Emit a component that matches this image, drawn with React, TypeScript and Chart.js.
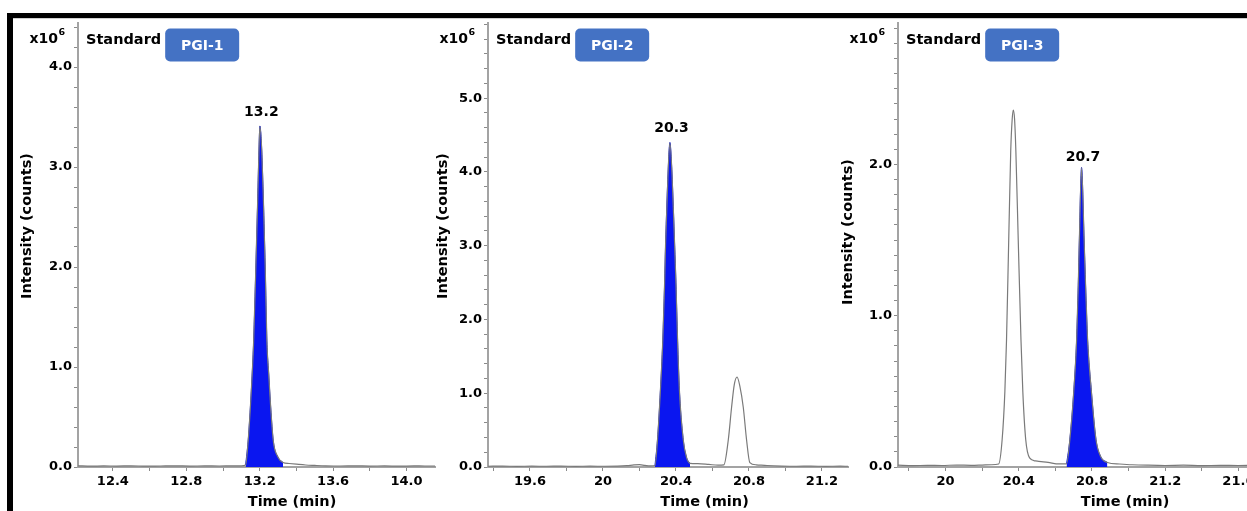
import React, { useEffect, useRef } from "react";
import { Chart, registerables } from "chart.js";

Chart.register(...registerables);

const FONT = "'DejaVu Sans', 'Liberation Sans', sans-serif";

// ---------- Panel 1 (PGI-1) ----------
const P1_TIME = [
  12.21, 12.28, 12.35, 12.42, 12.5, 12.58, 12.66, 12.74, 12.82, 12.9, 12.98, 13.05, 13.1,
  13.123, 13.137, 13.149, 13.159, 13.167, 13.179, 13.189, 13.196, 13.201, 13.211, 13.22,
  13.23, 13.239, 13.249, 13.26, 13.274, 13.299, 13.327, 13.36, 13.4, 13.45, 13.5, 13.56,
  13.64, 13.72, 13.8, 13.88, 13.96, 14.04, 14.1, 14.155,
];
const P1_INTENSITY = [
  0.012, 0.008, 0.011, 0.009, 0.012, 0.008, 0.01, 0.012, 0.009, 0.011, 0.01, 0.012, 0.012,
  0.02, 0.26, 0.59, 0.93, 1.26, 2.0, 2.67, 3.17, 3.41, 3.17, 2.67,
  2.0, 1.26, 0.93, 0.59, 0.26, 0.1, 0.045, 0.035, 0.028, 0.02, 0.016, 0.012,
  0.01, 0.012, 0.009, 0.011, 0.008, 0.011, 0.01, 0.01,
];
const P1_PEAK_RANGE = [13.123, 13.327];
const P1_X_LABEL_VALUES = [12.4, 12.8, 13.2, 13.6, 14.0];
const P1_X_LABELS = ["12.4", "12.8", "13.2", "13.6", "14.0"];
const P1_Y_LABEL_VALUES = [0, 1, 2, 3, 4];
const P1_Y_LABELS = ["0.0", "1.0", "2.0", "3.0", "4.0"];

// ---------- Panel 2 (PGI-2) ----------
const P2_TIME = [
  19.37, 19.45, 19.53, 19.61, 19.69, 19.77, 19.85, 19.93, 20.01, 20.08, 20.13, 20.17, 20.2,
  20.23, 20.26, 20.285, 20.299, 20.315, 20.328, 20.338, 20.343, 20.357, 20.367, 20.378,
  20.393, 20.4, 20.409, 20.419, 20.44, 20.458, 20.477, 20.52, 20.58, 20.63, 20.663, 20.687,
  20.705, 20.72, 20.735, 20.75, 20.769, 20.787, 20.805, 20.84, 20.9, 20.98, 21.06, 21.14,
  21.22, 21.3, 21.343,
];
const P2_INTENSITY = [
  0.01, 0.012, 0.009, 0.011, 0.01, 0.012, 0.009, 0.011, 0.01, 0.012, 0.018, 0.028, 0.032,
  0.022, 0.015, 0.02, 0.37, 1.04, 1.72, 2.5, 3.0, 4.0, 4.4, 4.0,
  3.0, 2.5, 1.72, 1.04, 0.37, 0.13, 0.05, 0.045, 0.035, 0.025, 0.03, 0.37,
  0.81, 1.12, 1.22, 1.1, 0.81, 0.37, 0.06, 0.03, 0.02, 0.013, 0.01, 0.012,
  0.009, 0.011, 0.01,
];
const P2_PEAK_RANGE = [20.285, 20.477];
const P2_X_LABEL_VALUES = [19.6, 20.0, 20.4, 20.8, 21.2];
const P2_X_LABELS = ["19.6", "20", "20.4", "20.8", "21.2"];
const P2_Y_LABEL_VALUES = [0, 1, 2, 3, 4, 5];
const P2_Y_LABELS = ["0.0", "1.0", "2.0", "3.0", "4.0", "5.0"];

// ---------- Panel 3 (PGI-3) ----------
const P3_TIME = [
  19.74, 19.82, 19.9, 19.98, 20.06, 20.14, 20.2, 20.25, 20.29, 20.309, 20.324, 20.333, 20.345,
  20.356, 20.364, 20.37, 20.377, 20.384, 20.397, 20.412, 20.422, 20.438, 20.459, 20.492, 20.56,
  20.62, 20.661, 20.679, 20.701, 20.716, 20.725, 20.731, 20.743, 20.757, 20.765, 20.776,
  20.796, 20.822, 20.847, 20.884, 20.95, 21.02, 21.1, 21.2, 21.3, 21.4, 21.5, 21.6, 21.7,
  21.8, 21.88,
];
const P3_INTENSITY = [
  0.012, 0.009, 0.011, 0.01, 0.013, 0.011, 0.013, 0.015, 0.02, 0.18, 0.5, 0.84, 1.5,
  2.09, 2.3, 2.36, 2.3, 2.09, 1.5, 0.84, 0.5, 0.18, 0.06, 0.04, 0.03,
  0.02, 0.02, 0.18, 0.51, 0.84, 1.2, 1.5, 1.98, 1.5, 1.2, 0.84,
  0.51, 0.18, 0.07, 0.03, 0.02, 0.015, 0.012, 0.01, 0.012, 0.009, 0.011, 0.01, 0.012,
  0.009, 0.01,
];
const P3_PEAK_RANGE = [20.661, 20.884];
const P3_X_LABEL_VALUES = [20.0, 20.4, 20.8, 21.2, 21.6];
const P3_X_LABELS = ["20", "20.4", "20.8", "21.2", "21.6"];
const P3_Y_LABEL_VALUES = [0, 1, 2];
const P3_Y_LABELS = ["0.0", "1.0", "2.0"];

const PANEL_NAMES = ["PGI-1", "PGI-2", "PGI-3"];
const PEAK_LABELS = ["13.2", "20.3", "20.7"];

type PanelCfg = {
  name: string;
  peakLabel: string;
  time: number[];
  intensity: number[];
  peakRange: number[];
  xLabelValues: number[];
  xLabels: string[];
  yLabelValues: number[];
  yLabels: string[];
  xMin: number;
  xMax: number;
  yMax: number;
  yMinor: number;
  // layout
  left: number;
  width: number;
  padRight: number;
  xTitleDx: number;
  yTitleDx: number;
  yTitleDy: number;
  labelGap: number;
};

const PANELS: PanelCfg[] = [
  {
    name: PANEL_NAMES[0], peakLabel: PEAK_LABELS[0], time: P1_TIME, intensity: P1_INTENSITY,
    peakRange: P1_PEAK_RANGE, xLabelValues: P1_X_LABEL_VALUES, xLabels: P1_X_LABELS,
    yLabelValues: P1_Y_LABEL_VALUES, yLabels: P1_Y_LABELS,
    xMin: 12.21, xMax: 14.155, yMax: 4.44, yMinor: 0.2,
    left: 14, width: 426, padRight: 5, xTitleDx: 214, yTitleDx: 50.5, yTitleDy: 203, labelGap: 13.5,
  },
  {
    name: PANEL_NAMES[1], peakLabel: PEAK_LABELS[1], time: P2_TIME, intensity: P2_INTENSITY,
    peakRange: P2_PEAK_RANGE, xLabelValues: P2_X_LABEL_VALUES, xLabels: P2_X_LABELS,
    yLabelValues: P2_Y_LABEL_VALUES, yLabels: P2_Y_LABELS,
    xMin: 19.37, xMax: 21.343, yMax: 6.02, yMinor: 0.2,
    left: 424, width: 430, padRight: 6, xTitleDx: 216.5, yTitleDx: 44.5, yTitleDy: 203, labelGap: 14,
  },
  {
    name: PANEL_NAMES[2], peakLabel: PEAK_LABELS[2], time: P3_TIME, intensity: P3_INTENSITY,
    peakRange: P3_PEAK_RANGE, xLabelValues: P3_X_LABEL_VALUES, xLabels: P3_X_LABELS,
    yLabelValues: P3_Y_LABEL_VALUES, yLabels: P3_Y_LABELS,
    xMin: 19.74, xMax: 21.882, yMax: 2.935, yMinor: 0.1,
    left: 834, width: 470, padRight: 14, xTitleDx: 227, yTitleDx: 49.5, yTitleDy: 209, labelGap: 10,
  },
];

const CANVAS_TOP = 19;
const CANVAS_H = 492;

function stepTicks(min: number, max: number, step: number) {
  const out: { value: number }[] = [];
  const start = Math.ceil(min / step - 1e-9) * step;
  for (let v = start; v <= max + 1e-9; v += step) {
    out.push({ value: Math.round(v * 10000) / 10000 });
  }
  return out;
}

function labelFor(values: number[], labels: string[], v: number) {
  const i = values.findIndex((m) => Math.abs(m - v) < 1e-6);
  return i >= 0 ? labels[i] : "";
}

function Panel({ cfg }: { cfg: PanelCfg }) {
  const ref = useRef<HTMLCanvasElement>(null);
  useEffect(() => {
    const canvas = ref.current!;
    const trace = cfg.time.map((t, i) => ({ x: t, y: cfg.intensity[i] }));
    const peak = trace.filter((p) => p.x >= cfg.peakRange[0] - 1e-9 && p.x <= cfg.peakRange[1] + 1e-9);
    const top = peak.reduce((a, b) => (b.y > a.y ? b : a), peak[0]);

    const textPlugin = {
      id: "panelText",
      afterDraw(chart: any) {
        const { ctx, chartArea: a, scales } = chart;
        ctx.save();
        ctx.fillStyle = "#000";
        // x10^6
        ctx.font = `bold 14px ${FONT}`;
        ctx.textAlign = "right";
        ctx.textBaseline = "alphabetic";
        ctx.fillText("x10", a.left - 20, a.top + 19.5);
        ctx.font = `bold 9.5px ${FONT}`;
        ctx.textAlign = "left";
        ctx.fillText("6", a.left - 19.5, a.top + 12);
        // Standard
        ctx.font = `bold 14.5px ${FONT}`;
        ctx.textBaseline = "middle";
        ctx.fillText("Standard", a.left + 8, a.top + 17);
        const sw = ctx.measureText("Standard").width;
        // badge
        const bx = a.left + 8 + sw + 4;
        const by = a.top + 5.5;
        const bw = 74;
        const bh = 33;
        ctx.fillStyle = "#4472C4";
        ctx.beginPath();
        (ctx as any).roundRect(bx, by, bw, bh, 5);
        ctx.fill();
        ctx.fillStyle = "#fff";
        ctx.font = `bold 14px ${FONT}`;
        ctx.textAlign = "center";
        ctx.fillText(cfg.name, bx + bw / 2, by + bh / 2 + 1);
        // peak label
        const px = scales.x.getPixelForValue(top.x);
        const py = scales.y.getPixelForValue(top.y);
        ctx.fillStyle = "#000";
        ctx.font = `bold 14px ${FONT}`;
        ctx.fillText(cfg.peakLabel, px + 1.5, py - cfg.labelGap);
        // x title
        ctx.font = `bold 14.5px ${FONT}`;
        ctx.fillText("Time (min)", a.left + cfg.xTitleDx, a.bottom + 35.5);
        // y title
        ctx.translate(a.left - cfg.yTitleDx, a.top + cfg.yTitleDy);
        ctx.rotate(-Math.PI / 2);
        ctx.font = `bold 14.5px ${FONT}`;
        ctx.fillText("Intensity (counts)", 0, 0);
        ctx.restore();
      },
    };

    const tickFont = { family: FONT, weight: "bold" as const, size: 13 };

    const chart = new Chart(canvas, {
      type: "line",
      data: {
        datasets: [
          {
            data: trace,
            borderColor: "#7a7a7a",
            borderWidth: 1.2,
            pointRadius: 0,
            fill: false,
            cubicInterpolationMode: "monotone",
            order: 0,
          },
          {
            data: peak,
            borderColor: "#0a16f0",
            backgroundColor: "#0a16f0",
            borderWidth: 1,
            pointRadius: 0,
            fill: "origin",
            cubicInterpolationMode: "monotone",
            order: 1,
          },
        ],
      },
      options: {
        animation: false,
        responsive: false,
        maintainAspectRatio: false,
        devicePixelRatio: 1,
        layout: { padding: { top: 4, right: cfg.padRight, left: 0, bottom: 0 } },
        plugins: { legend: { display: false }, tooltip: { enabled: false } },
        scales: {
          x: {
            type: "linear",
            min: cfg.xMin,
            max: cfg.xMax,
            afterBuildTicks: (s: any) => {
              s.ticks = stepTicks(cfg.xMin, cfg.xMax, 0.2);
            },
            afterFit: (s: any) => {
              s.height = 44;
              s.paddingLeft = 0;
              s.paddingRight = 0;
            },
            ticks: {
              autoSkip: false,
              maxRotation: 0,
              minRotation: 0,
              padding: 3,
              color: "#000",
              font: tickFont,
              callback: (v: any) => labelFor(cfg.xLabelValues, cfg.xLabels, Number(v)),
            },
            grid: { drawOnChartArea: false, drawTicks: true, tickLength: 4, color: "#8a8a8a", lineWidth: 1 },
            border: { display: true, color: "#a3a3a3", width: 2 },
          },
          y: {
            type: "linear",
            min: 0,
            max: cfg.yMax,
            afterBuildTicks: (s: any) => {
              s.ticks = stepTicks(0, cfg.yMax, cfg.yMinor);
            },
            afterFit: (s: any) => {
              s.width = 64;
              s.paddingTop = 0;
              s.paddingBottom = 0;
            },
            ticks: {
              autoSkip: false,
              padding: 2,
              color: "#000",
              font: tickFont,
              callback: (v: any) => labelFor(cfg.yLabelValues, cfg.yLabels, Number(v)),
            },
            grid: { drawOnChartArea: false, drawTicks: true, tickLength: 4, color: "#8a8a8a", lineWidth: 1 },
            border: { display: true, color: "#a3a3a3", width: 2 },
          },
        },
      },
      plugins: [textPlugin],
    } as any);
    return () => chart.destroy();
  }, [cfg]);

  return (
    <canvas
      ref={ref}
      width={cfg.width}
      height={CANVAS_H}
      style={{ position: "absolute", left: cfg.left, top: CANVAS_TOP, width: cfg.width, height: CANVAS_H }}
    />
  );
}

export default function App() {
  return (
    <div
      style={{
        position: "fixed",
        left: 0,
        top: 0,
        width: 1247,
        height: 511,
        overflow: "hidden",
        background: "#fff",
      }}
    >
      {PANELS.map((p) => (
        <Panel key={p.name} cfg={p} />
      ))}
      <div style={{ position: "absolute", left: 7, top: 13, width: 1240, height: 5, background: "#000" }} />
      <div style={{ position: "absolute", left: 13, top: 18, width: 1234, height: 1, background: "#cfcfcf" }} />
      <div style={{ position: "absolute", left: 7, top: 13, width: 6, height: 498, background: "#000" }} />
    </div>
  );
}
